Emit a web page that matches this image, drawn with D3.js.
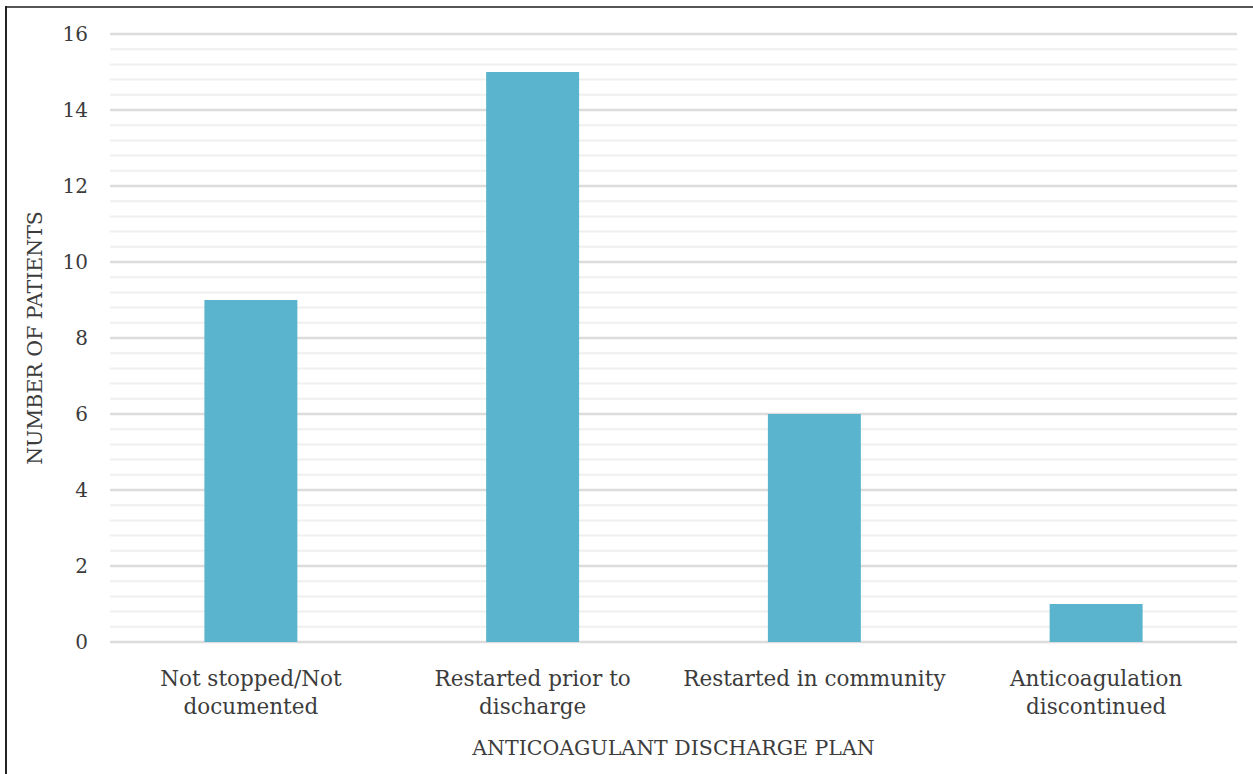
<!DOCTYPE html>
<html>
<head>
<meta charset="utf-8">
<script src="https://cdn.jsdelivr.net/npm/d3@7"></script>
<style>
  body { margin: 0; background: #fff; }
  svg { display: block; }
  text { font-family: 'DejaVu Serif', 'Liberation Serif', serif; fill: #3c3c3c; }
</style>
</head>
<body>
<div id="chart"></div>
<script>
const categories = [['Not stopped/Not', 'documented'], ['Restarted prior to', 'discharge'], ['Restarted in community'], ['Anticoagulation', 'discontinued']]
const values = [9, 15, 6, 1]
const yTicks = [0, 2, 4, 6, 8, 10, 12, 14, 16]
const minorTicks = d3.range(0, 16.01, 0.4)

const width = 1253
const height = 774
const margin = { top: 34, right: 16, bottom: 132, left: 110 }

const svg = d3.select('#chart')
  .append('svg')
  .attr('width', width)
  .attr('height', height)

// frame (only top and left edges show in the original crop)
svg.append('line')
  .attr('x1', 5).attr('x2', width).attr('y1', 7).attr('y2', 7)
  .attr('stroke', '#555').attr('stroke-width', 2)
svg.append('line')
  .attr('x1', 6).attr('x2', 6).attr('y1', 6).attr('y2', height)
  .attr('stroke', '#222').attr('stroke-width', 2)

const xScale = d3.scaleBand()
  .domain(d3.range(values.length))
  .range([margin.left, width - margin.right])
  .paddingInner(0.67)
  .paddingOuter(0.335)
const yScale = d3.scaleLinear()
  .domain([0, 16])
  .range([height - margin.bottom, margin.top])

// minor gridlines
svg.append('g')
  .selectAll('line')
  .data(minorTicks)
  .join('line')
  .attr('x1', margin.left)
  .attr('x2', width - margin.right)
  .attr('y1', d => yScale(d))
  .attr('y2', d => yScale(d))
  .attr('stroke', '#efefef')
  .attr('stroke-width', 2)

// major gridlines
svg.append('g')
  .selectAll('line')
  .data(yTicks)
  .join('line')
  .attr('x1', margin.left)
  .attr('x2', width - margin.right)
  .attr('y1', d => yScale(d))
  .attr('y2', d => yScale(d))
  .attr('stroke', '#dcdcdc')
  .attr('stroke-width', 2.5)

const axisY = d3.axisLeft(yScale).tickValues(yTicks).tickSize(0).tickPadding(22)
svg.append('g')
  .attr('class', 'axisY')
  .attr('transform', `translate(${margin.left}, 0)`)
  .call(axisY)
  .call(g => g.select('.domain').remove())
  .selectAll('text')
  .style('font-size', '20px')
  .attr('fill', '#3c3c3c')

svg.append('g')
  .selectAll('rect')
  .data(values)
  .join('rect')
  .attr('x', (d, i) => xScale(i))
  .attr('y', d => yScale(d))
  .attr('width', xScale.bandwidth())
  .attr('height', d => yScale(0) - yScale(d))
  .attr('fill', '#5ab4ce')

const axisX = d3.axisBottom(xScale).tickSize(0).tickFormat('')
const gx = svg.append('g')
  .attr('class', 'axisX')
  .attr('transform', `translate(0, ${height - margin.bottom})`)
  .call(axisX)
gx.select('.domain').remove()
gx.selectAll('.tick')
  .append('text')
  .attr('text-anchor', 'middle')
  .attr('fill', '#3c3c3c')
  .style('font-size', '21.5px')
  .selectAll('tspan')
  .data(i => categories[i])
  .join('tspan')
  .attr('x', 0)
  .attr('y', (d, j) => 44 + j * 28)
  .text(d => d)

svg.append('text')
  .attr('x', (margin.left + width - margin.right) / 2)
  .attr('y', 755)
  .attr('text-anchor', 'middle')
  .style('font-size', '20.5px')
  .text('ANTICOAGULANT DISCHARGE PLAN')

svg.append('text')
  .attr('transform', `translate(42, ${(yScale(0) + yScale(16)) / 2}) rotate(-90)`)
  .attr('text-anchor', 'middle')
  .style('font-size', '20.5px')
  .text('NUMBER OF PATIENTS')
</script>
</body>
</html>
